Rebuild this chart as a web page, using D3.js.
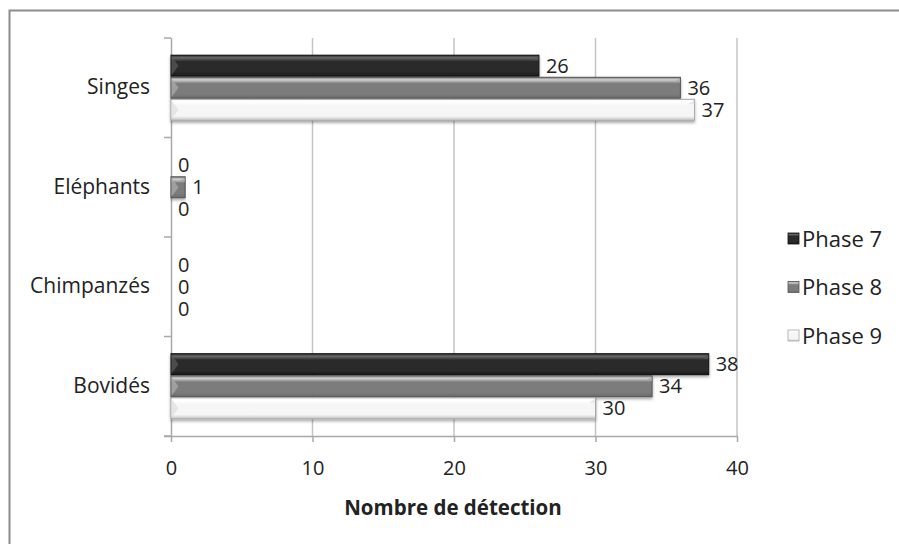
<!DOCTYPE html>
<html>
<head>
<meta charset="utf-8">
<script src="https://cdn.jsdelivr.net/npm/d3@7"></script>
<style>
  html, body { margin: 0; padding: 0; background: #fff; }
  svg { display: block; }
  text { font-family: "Open Sans", "Noto Sans", sans-serif; fill: #222; }
</style>
</head>
<body>
<svg id="chart" width="899" height="544"></svg>
<script>
// Detections per animal group and survey phase
const categories = ["Singes", "Eléphants", "Chimpanzés", "Bovidés"];
const seriesNames = ["Phase 7", "Phase 8", "Phase 9"];
const phase7 = [26, 0, 0, 38];
const phase8 = [36, 1, 0, 34];
const phase9 = [37, 0, 0, 30];
const xTicks = [0, 10, 20, 30, 40];
const xTitle = "Nombre de détection";

const seriesValues = [phase7, phase8, phase9];
const fontSize = 20;

// Bevel shading for each series
const shades = [
  { hi: "#6a6a6a", body: "#2a2a2a", lo: "#1a1a1a", edge: "#111111", tri: "#555555" },
  { hi: "#d2d2d2", body: "#7c7c7c", lo: "#6a6a6a", edge: "#555555", tri: "#a8a8a8" },
  { hi: "#ffffff", body: "#f6f6f6", lo: "#c4c4c4", edge: "#a8a8a8", tri: "#e2e2e2" }
];

const svg = d3.select("#chart");
const defs = svg.append("defs");

shades.forEach((s, i) => {
  const g = defs.append("linearGradient")
    .attr("id", "bev" + i).attr("x1", 0).attr("y1", 0).attr("x2", 0).attr("y2", 1);
  g.append("stop").attr("offset", "0%").attr("stop-color", s.body);
  g.append("stop").attr("offset", "12%").attr("stop-color", s.hi);
  g.append("stop").attr("offset", "30%").attr("stop-color", s.body);
  g.append("stop").attr("offset", "80%").attr("stop-color", s.body);
  g.append("stop").attr("offset", "100%").attr("stop-color", s.lo);
});

const shadow = defs.append("filter").attr("id", "shadow")
  .attr("x", "-5%").attr("y", "-30%").attr("width", "110%").attr("height", "180%");
shadow.append("feDropShadow").attr("dx", 0).attr("dy", 2).attr("stdDeviation", 1.6)
  .attr("flood-color", "#000").attr("flood-opacity", 0.35);

// Outer chart frame
svg.append("rect")
  .attr("x", 9.5).attr("y", 10.5).attr("width", 900).attr("height", 540)
  .attr("fill", "none").attr("stroke", "#8c8c8c").attr("stroke-width", 2);

const plot = { left: 171, right: 737, top: 38, bottom: 436 };

const x = d3.scaleLinear().domain([0, 40]).range([plot.left, plot.right]);
const y = d3.scaleBand().domain(categories).range([plot.top, plot.bottom]).padding(0);
const yInner = d3.scaleBand().domain(seriesNames).range([0, y.bandwidth()])
  .paddingInner(0.05).paddingOuter(0.78);

// Vertical gridlines
svg.append("g").selectAll("line")
  .data(xTicks.filter(t => t > 0))
  .join("line")
  .attr("x1", d => x(d)).attr("x2", d => x(d))
  .attr("y1", plot.top).attr("y2", plot.bottom)
  .attr("stroke", "#c4c4c4").attr("stroke-width", 1.5);

// X axis
const xAxis = svg.append("g").attr("transform", `translate(0,${plot.bottom})`)
  .call(d3.axisBottom(x).tickValues(xTicks).tickSize(6).tickPadding(19).tickSizeOuter(0));
xAxis.select(".domain").attr("stroke", "#a8a8a8").attr("stroke-width", 1.5)
  .attr("d", `M${plot.left - 7},0.5H${plot.right}`);
xAxis.selectAll(".tick line").attr("stroke", "#a8a8a8").attr("stroke-width", 1.5);
xAxis.selectAll(".tick text").attr("font-size", fontSize).attr("fill", "#222")
  .style("font-family", '"Open Sans", sans-serif');

// Y axis
const yAxis = svg.append("g").attr("transform", `translate(${plot.left},0)`)
  .call(d3.axisLeft(y).tickSize(0).tickPadding(21));
yAxis.select(".domain").attr("stroke", "#a8a8a8").attr("stroke-width", 1.5)
  .attr("d", `M0.5,${plot.top}V${plot.bottom}`);
yAxis.selectAll(".tick text").attr("font-size", fontSize + 1).attr("fill", "#222")
  .style("font-family", '"Open Sans", sans-serif');
// Category boundary ticks on the y axis
svg.append("g").selectAll("line")
  .data(d3.range(categories.length + 1))
  .join("line")
  .attr("x1", plot.left - 7).attr("x2", plot.left)
  .attr("y1", i => plot.top + i * y.step()).attr("y2", i => plot.top + i * y.step())
  .attr("stroke", "#a8a8a8").attr("stroke-width", 1.5);

// Bars
const rows = [];
categories.forEach((c, ci) => {
  seriesNames.forEach((s, si) => {
    rows.push({ cat: c, series: s, si, value: seriesValues[si][ci] });
  });
});

const barG = svg.append("g");
const bars = barG.selectAll("g.bar")
  .data(rows.filter(d => d.value > 0))
  .join("g").attr("class", "bar");

bars.append("rect")
  .attr("x", x(0))
  .attr("y", d => y(d.cat) + yInner(d.series))
  .attr("width", d => x(d.value) - x(0))
  .attr("height", yInner.bandwidth())
  .attr("fill", d => `url(#bev${d.si})`)
  .attr("stroke", d => shades[d.si].edge)
  .attr("stroke-width", 1)
  .attr("filter", "url(#shadow)");

// Bevel facets at both ends of each bar
bars.append("path")
  .attr("d", d => {
    const y0 = y(d.cat) + yInner(d.series), h = yInner.bandwidth(), x0 = x(0) + 0.5;
    const t = Math.min(7, (x(d.value) - x(0)) / 2);
    return `M${x0},${y0 + 1}L${x0 + t},${y0 + h / 2}L${x0},${y0 + h - 1}Z`;
  })
  .attr("fill", d => shades[d.si].tri).attr("opacity", 0.8);
bars.append("path")
  .attr("d", d => {
    const y0 = y(d.cat) + yInner(d.series), x1 = x(d.value) - 0.5;
    const t = Math.min(6, (x(d.value) - x(0)) / 2);
    return `M${x1},${y0 + 1}L${x1 - t},${y0 + 5}L${x1},${y0 + 5}Z`;
  })
  .attr("fill", d => shades[d.si].tri).attr("opacity", 0.8);

// Value labels
svg.append("g").selectAll("text")
  .data(rows)
  .join("text")
  .attr("x", d => x(d.value) + 7)
  .attr("y", d => y(d.cat) + yInner(d.series) + yInner.bandwidth() / 2)
  .attr("dy", "0.35em")
  .attr("font-size", fontSize)
  .text(d => d.value);

// Axis title
svg.append("text")
  .attr("x", (plot.left + plot.right) / 2 - 1)
  .attr("y", 515)
  .attr("text-anchor", "middle")
  .attr("font-size", fontSize + 0.5)
  .attr("font-weight", "bold")
  .text(xTitle);

// Legend
const legend = svg.append("g").attr("transform", "translate(788,0)");
const legendY = d3.scalePoint().domain(seriesNames).range([239, 336]);
const li = legend.selectAll("g").data(seriesNames).join("g")
  .attr("transform", d => `translate(0,${legendY(d)})`);
li.append("rect")
  .attr("x", 0).attr("y", -6).attr("width", 11).attr("height", 11)
  .attr("fill", (d, i) => `url(#bev${i})`)
  .attr("stroke", (d, i) => shades[i].edge).attr("stroke-width", 0.8);
li.append("text")
  .attr("x", 14).attr("dy", "0.35em").attr("font-size", fontSize + 2)
  .text(d => d);
</script>
</body>
</html>
